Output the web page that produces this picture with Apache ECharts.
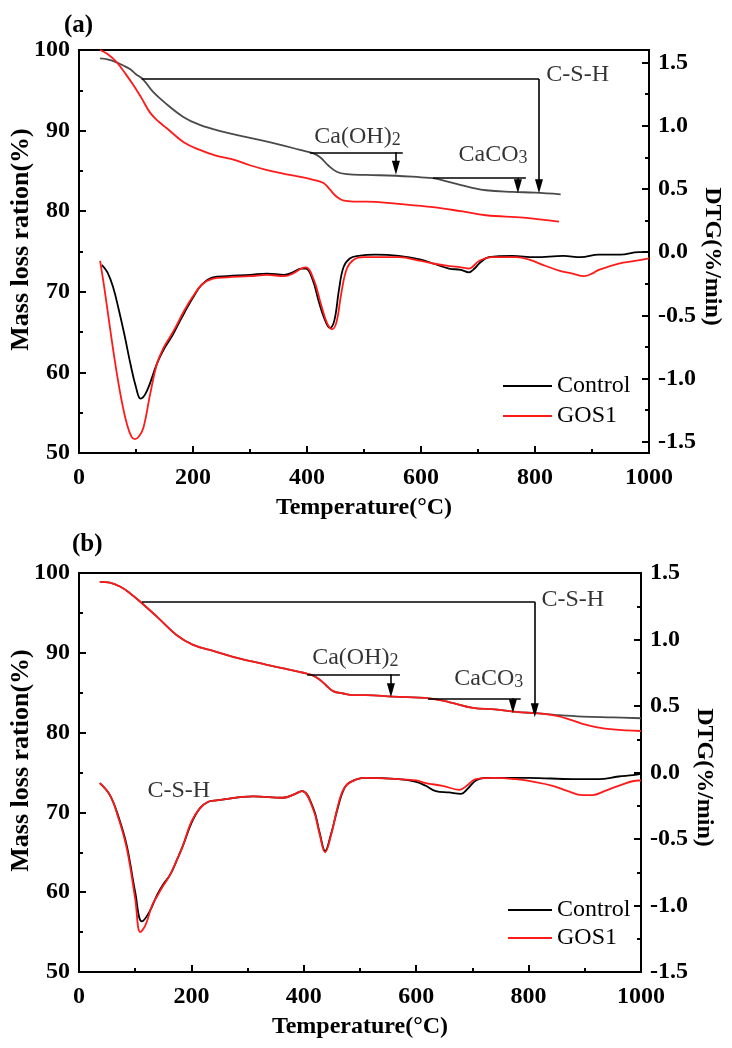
<!DOCTYPE html>
<html>
<head>
<meta charset="utf-8">
<script src="https://cdn.jsdelivr.net/npm/echarts@6/dist/echarts.min.js"></script>
<style>
html,body{margin:0;padding:0;background:#fff;}
#chart{width:732px;height:1048px;}
</style>
</head>
<body>
<div id="chart"></div>
<script>
// ---------- Panel (a) TG ----------
const tgA_T_control = [37,50,65,77,90,100,113,130,150,183,212,250,300,350,388,410,423,437,452,470,504,556,600,621,645,667,690,714,760,800,845];
const tgA_control   = [98.97,98.85,98.5,98.1,97.6,97.0,96.3,94.8,93.5,91.7,90.7,89.9,89.1,88.3,87.6,87.2,86.7,85.7,84.9,84.6,84.5,84.4,84.2,84.1,83.7,83.3,82.9,82.6,82.4,82.3,82.1];
const tgA_T_gos1 = [37,50,66,80,95,110,125,140,154,183,212,240,271,300,330,370,411,429,440,452,465,481,504,560,621,670,714,780,842];
const tgA_gos1   = [100,99.5,98.5,97.2,95.7,94.0,92.2,91.1,90.3,88.6,87.6,86.9,86.4,85.7,85.1,84.5,83.9,83.5,82.7,81.8,81.3,81.2,81.2,80.9,80.5,80.0,79.5,79.2,78.7];
// ---------- Panel (a) DTG ----------
const dtgA_T_control = [40,50,60,70,80,90,100,108,119,137,150,165,180,200,215,235,260,300,330,360,375,390,398,410,420,430,440,448,456,464,475,490,520,561,600,621,649,670,684,694,702,719,760,800,850,880,912,950,982,1000];
const dtgA_control   = [-0.10,-0.16,-0.28,-0.46,-0.66,-0.88,-1.07,-1.16,-1.10,-0.88,-0.76,-0.65,-0.52,-0.36,-0.26,-0.20,-0.19,-0.18,-0.17,-0.18,-0.16,-0.13,-0.13,-0.22,-0.38,-0.52,-0.60,-0.54,-0.30,-0.12,-0.05,-0.03,-0.02,-0.03,-0.06,-0.09,-0.13,-0.14,-0.16,-0.13,-0.09,-0.04,-0.03,-0.04,-0.03,-0.04,-0.02,-0.02,0.0,0.0];
const dtgA_T_gos1 = [37,45,55,66,75,84,92,98,105,113,125,137,148,160,170,185,200,215,235,260,300,330,360,375,390,398,412,425,435,444,452,460,470,482,500,561,600,621,650,670,684,702,725,767,790,819,845,866,886,900,912,947,975,1000];
const dtgA_gos1   = [-0.07,-0.30,-0.62,-0.95,-1.18,-1.36,-1.46,-1.48,-1.46,-1.39,-1.12,-0.88,-0.76,-0.67,-0.59,-0.46,-0.35,-0.26,-0.21,-0.20,-0.19,-0.18,-0.19,-0.17,-0.13,-0.12,-0.22,-0.42,-0.56,-0.61,-0.55,-0.33,-0.13,-0.06,-0.04,-0.04,-0.07,-0.09,-0.11,-0.12,-0.13,-0.07,-0.04,-0.04,-0.06,-0.11,-0.15,-0.17,-0.19,-0.17,-0.14,-0.09,-0.07,-0.05];
// ---------- Panel (b) TG ----------
const tgB_T_control = [37,55,73,90,109,139,174,203,240,274,334,399,415,429,440,452,470,488,511,558,623,660,701,740,778,818,850,896,950,1000];
const tgB_control   = [98.9,98.8,98.3,97.5,96.4,94.5,92.2,91.0,90.2,89.5,88.5,87.5,87.2,86.6,85.9,85.2,84.9,84.7,84.7,84.5,84.3,83.8,83.1,82.9,82.6,82.4,82.2,82.0,81.9,81.8];
const tgB_T_gos1 = [37,55,73,90,109,139,174,203,240,274,334,399,415,429,440,452,470,488,511,558,623,660,701,740,778,818,850,875,896,920,950,1000];
const tgB_gos1   = [98.9,98.8,98.3,97.5,96.4,94.5,92.2,91.0,90.2,89.5,88.5,87.5,87.2,86.6,85.9,85.2,84.9,84.7,84.7,84.5,84.3,83.8,83.1,82.9,82.6,82.4,82.1,81.6,81.1,80.7,80.4,80.2];
// ---------- Panel (b) DTG ----------
const dtgB_T_control = [37,55,70,85,100,112,125,139,150,162,175,185,200,215,230,245,310,363,385,397,417,428,438,448,459,468,477,495,511,569,600,617,635,658,680,692,706,722,800,879,925,960,986,1000];
const dtgB_control   = [-0.08,-0.17,-0.33,-0.55,-0.90,-1.12,-1.05,-0.92,-0.84,-0.77,-0.65,-0.55,-0.38,-0.27,-0.22,-0.21,-0.18,-0.19,-0.16,-0.14,-0.27,-0.45,-0.59,-0.47,-0.29,-0.16,-0.09,-0.05,-0.04,-0.05,-0.07,-0.10,-0.14,-0.15,-0.16,-0.12,-0.06,-0.04,-0.04,-0.05,-0.05,-0.03,-0.02,-0.01];
const dtgB_T_gos1 = [37,55,70,85,100,109,118,130,139,150,162,175,185,200,215,230,245,310,363,385,397,417,428,438,448,459,468,477,495,511,569,600,617,647,677,690,706,740,777,810,843,870,896,914,935,960,996,1000];
const dtgB_gos1   = [-0.08,-0.17,-0.34,-0.57,-0.95,-1.20,-1.15,-1.00,-0.93,-0.85,-0.77,-0.65,-0.55,-0.37,-0.27,-0.22,-0.21,-0.18,-0.19,-0.16,-0.14,-0.28,-0.46,-0.60,-0.48,-0.28,-0.15,-0.09,-0.05,-0.04,-0.05,-0.06,-0.08,-0.10,-0.13,-0.10,-0.05,-0.04,-0.05,-0.07,-0.10,-0.14,-0.17,-0.17,-0.14,-0.10,-0.06,-0.06];

// ---------- Tick labels / annotations ----------
const dtgTicks = [-1.5,-1.0,-0.5,0.0,0.5,1.0,1.5];
const dtgMinorTicks = [-1.25,-0.75,-0.25,0.25,0.75,1.25];
const seriesNames = ['Control','GOS1'];
// annotation anchors (temperature, mass %)
const annA_csh = {y:96.4, x0:110, x1:807, tip:83.1};
const annA_ch  = {y:87.3, x0:405, x1:568, ax:556, tip:85.4};
const annA_cc  = {y:84.1, x0:621, x1:784, ax:770, tip:83.1};
const annB_csh = {y:96.4, x0:112, x1:811, tip:82.8};
const annB_ch  = {y:87.3, x0:406, x1:571, ax:555, tip:85.3};
const annB_cc  = {y:84.3, x0:621, x1:786, ax:772, tip:83.3};
const labelsA = [[819,96.9,'C-S-H'],[412,89.2,'Ca(OH){s|2}'],[665,87.0,'CaCO{s|3}']];
const labelsB = [[822,96.7,'C-S-H'],[414,89.35,'Ca(OH){s|2}'],[667,86.7,'CaCO{s|3}'],[121,72.7,'C-S-H']];

const zip = (xs, ys) => xs.map((x,i)=>[x, ys[i]]);
const FONT = 'Liberation Serif';
const RED = '#ff1a1a', BLACK = '#000', GRAY = '#4a4a4a';

function xAxisDef(gi){
  return {
    gridIndex: gi, type:'value', min:0, max:1000, interval:200,
    name:'Temperature(°C)', nameLocation:'middle', nameGap:43,
    nameTextStyle:{fontFamily:FONT, fontWeight:'bold', fontSize:24, color:'#000'},
    axisLine:{show:true, onZero:false, lineStyle:{color:'#000', width:2}},
    axisTick:{show:true, inside:true, length:7, lineStyle:{color:'#000', width:2}},
    minorTick:{show:true, splitNumber:2, length:4, lineStyle:{color:'#000', width:2}},
    axisLabel:{fontFamily:FONT, fontWeight:'bold', fontSize:24, color:'#000', margin:13, formatter:v=>String(v)},
    splitLine:{show:false}, minorSplitLine:{show:false}
  };
}
function leftAxisDef(gi){
  return {
    gridIndex: gi, type:'value', position:'left', min:50, max:100, interval:10,
    name:'Mass loss ration(%)', nameLocation:'middle', nameGap:45, nameMoveOverlap:false,
    nameTextStyle:{fontFamily:FONT, fontWeight:'bold', fontSize:26, color:'#000', padding:[0,0,0,24]},
    axisLine:{show:true, onZero:false, lineStyle:{color:'#000', width:2}},
    axisTick:{show:true, inside:true, length:7, lineStyle:{color:'#000', width:2}},
    minorTick:{show:true, splitNumber:2, length:4, lineStyle:{color:'#000', width:2}},
    axisLabel:{fontFamily:FONT, fontWeight:'bold', fontSize:24, color:'#000', margin:9, formatter:v=>String(v)},
    splitLine:{show:false}, minorSplitLine:{show:false}
  };
}
const rightName = {name:'DTG(%/min)', nameLocation:'middle', nameRotate:-90, nameGap:51, nameMoveOverlap:false,
  nameTextStyle:{fontFamily:FONT, fontWeight:'bold', fontSize:24, color:'#000', padding:[0,0,0,10]}};

const option = {
  backgroundColor:'#fff',
  animation:false,
  title:[
    {text:'(a)', left:59, top:8, textStyle:{fontFamily:FONT, fontWeight:'bold', fontSize:25, color:'#000'}},
    {text:'(b)', left:67, top:527, textStyle:{fontFamily:FONT, fontWeight:'bold', fontSize:25, color:'#000'}}
  ],
  grid:[
    {left:79, top:50, width:570, height:403, show:true, borderColor:'#000', borderWidth:2, containLabel:false, outerBoundsMode:'none'},
    {left:79, top:573, width:562, height:399, show:true, borderColor:'#000', borderWidth:2, containLabel:false, outerBoundsMode:'none'}
  ],
  legend:[
    {left:498, top:369, orient:'vertical', icon:'rect', itemWidth:49, itemHeight:2, itemGap:6,
     textStyle:{fontFamily:FONT, fontSize:24, color:'#000'},
     data:[{name:seriesNames[0], itemStyle:{color:BLACK}},{name:seriesNames[1], itemStyle:{color:RED}}]},
    {left:503, top:893, orient:'vertical', icon:'rect', itemWidth:44, itemHeight:2, itemGap:4,
     textStyle:{fontFamily:FONT, fontSize:24, color:'#000'},
     data:[{name:seriesNames[0], itemStyle:{color:BLACK}},{name:seriesNames[1], itemStyle:{color:RED}}]}
  ],
  xAxis:[xAxisDef(0), xAxisDef(1)],
  yAxis:[
    leftAxisDef(0),
    Object.assign({
      gridIndex:0, type:'value', position:'right', min:-1.59, max:1.6,
      axisLine:{show:true, onZero:false, lineStyle:{color:'#000', width:2}},
      axisTick:{show:true, inside:true, length:7, customValues:dtgTicks, lineStyle:{color:'#000', width:2}},
      axisLabel:{fontFamily:FONT, fontWeight:'bold', fontSize:24, color:'#000', margin:9,
        customValues:dtgTicks, formatter:v=>Number(v).toFixed(1)},
      splitLine:{show:false}
    }, rightName),
    {
      gridIndex:0, type:'value', position:'right', min:-1.59, max:1.6,
      axisLine:{show:false, onZero:false},
      axisTick:{show:true, inside:true, length:4, customValues:dtgMinorTicks, lineStyle:{color:'#000', width:2}},
      axisLabel:{show:false}, splitLine:{show:false}
    },
    leftAxisDef(1),
    Object.assign({
      gridIndex:1, type:'value', position:'right', min:-1.5, max:1.5, interval:0.5,
      axisLine:{show:true, onZero:false, lineStyle:{color:'#000', width:2}},
      axisTick:{show:true, inside:true, length:7, lineStyle:{color:'#000', width:2}},
      minorTick:{show:true, splitNumber:2, length:4, lineStyle:{color:'#000', width:2}},
      axisLabel:{fontFamily:FONT, fontWeight:'bold', fontSize:24, color:'#000', margin:9,
        formatter:v=>Number(v).toFixed(1)},
      splitLine:{show:false}, minorSplitLine:{show:false}
    }, rightName)
  ],
  series:[]
};

function lineSeries(name, xi, yi, data, color, width){
  return {name, type:'line', xAxisIndex:xi, yAxisIndex:yi, data, smooth:0.4,
    showSymbol:false, symbol:'none', lineStyle:{color, width:width||1.8}, itemStyle:{color}, z:3,
    emphasis:{disabled:true}};
}
const ARROW = {symbol:'triangle', symbolSize:[8,14]};
function annotData(a, b, c){
  const d = [
    [{coord:[a.x0,a.y]},{coord:[a.x1,a.y]}],
    [{coord:[a.x1,a.y]},Object.assign({coord:[a.x1,a.tip]}, ARROW)]
  ];
  [b, c].forEach(k=>{
    d.push([{coord:[k.x0,k.y]},{coord:[k.x1,k.y]}]);
    d.push([{coord:[k.ax,k.y]},Object.assign({coord:[k.ax,k.tip]}, ARROW)]);
  });
  return {silent:true, symbol:['none','none'], animation:false,
    lineStyle:{color:'#000', width:1.6, type:'solid', opacity:1},
    itemStyle:{color:'#000'}, label:{show:false}, emphasis:{disabled:true}, data:d};
}
function labelSeries(xi, yi, data){
  return {type:'scatter', xAxisIndex:xi, yAxisIndex:yi, symbolSize:1, silent:true,
    itemStyle:{color:'rgba(0,0,0,0)'},
    data: data.map(d=>({value:[d[0],d[1]], name:d[2]})),
    label:{show:true, position:'right', distance:0, color:'#000', fontFamily:FONT, fontSize:24,
      formatter:p=>p.name,
      rich:{s:{fontFamily:FONT, fontSize:18, lineHeight:6, verticalAlign:'bottom', color:'#000'}}},
    z:5};
}

// Panel a
const sA1 = lineSeries(seriesNames[0], 0, 0, zip(tgA_T_control, tgA_control), GRAY);
sA1.markLine = annotData(annA_csh, annA_ch, annA_cc);
option.series.push(sA1);
option.series.push(lineSeries(seriesNames[1], 0, 0, zip(tgA_T_gos1, tgA_gos1), RED));
option.series.push(lineSeries(seriesNames[0], 0, 1, zip(dtgA_T_control, dtgA_control), BLACK));
option.series.push(lineSeries(seriesNames[1], 0, 1, zip(dtgA_T_gos1, dtgA_gos1), RED));
option.series.push(labelSeries(0, 0, labelsA));
// Panel b
option.series.push(lineSeries(seriesNames[0], 1, 3, zip(tgB_T_control, tgB_control), GRAY));
const sB2 = lineSeries(seriesNames[1], 1, 3, zip(tgB_T_gos1, tgB_gos1), RED);
sB2.markLine = annotData(annB_csh, annB_ch, annB_cc);
option.series.push(sB2);
option.series.push(lineSeries(seriesNames[0], 1, 4, zip(dtgB_T_control, dtgB_control), BLACK));
option.series.push(lineSeries(seriesNames[1], 1, 4, zip(dtgB_T_gos1, dtgB_gos1), RED));
option.series.push(labelSeries(1, 3, labelsB));

const chart = echarts.init(document.getElementById('chart'), null, {renderer:'canvas'});
chart.setOption(option);
</script>
</body>
</html>
